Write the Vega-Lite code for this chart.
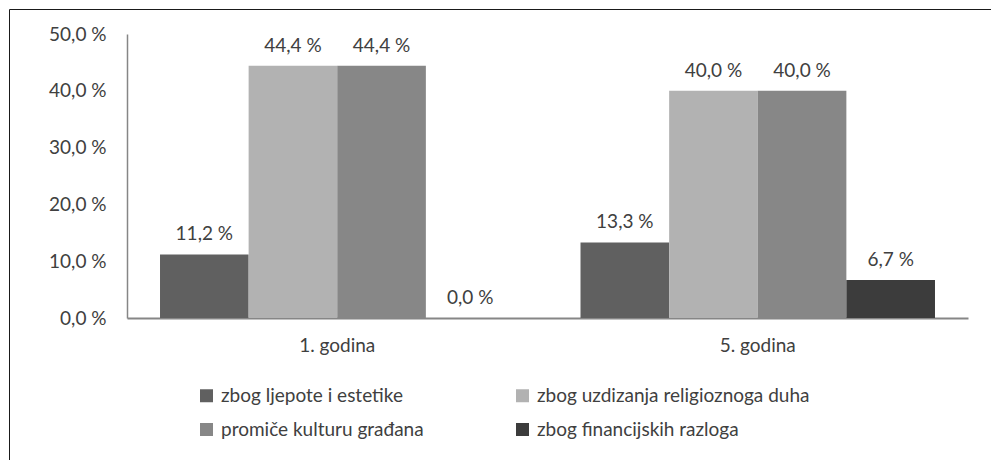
{
  "$schema": "https://vega.github.io/schema/vega-lite/v6.json",
  "width": 990,
  "height": 460,
  "autosize": {"type": "none"},
  "padding": {"left": 9, "top": 9, "right": 0, "bottom": 0},
  "config": {
    "locale": {"number": {"decimal": ",", "thousands": ".", "grouping": [3], "currency": ["", " €"], "percent": " %"}},
    "view": {"stroke": "#1a1a1a", "strokeWidth": 1},
    "font": "Lato",
    "text": {"font": "Lato"}
  },
  "data": {
    "values": [
      {"year": "1. godina", "reason": "zbog ljepote i estetike", "value": 0.112},
      {"year": "1. godina", "reason": "zbog uzdizanja religioznoga duha", "value": 0.444},
      {"year": "1. godina", "reason": "promiče kulturu građana", "value": 0.444},
      {"year": "1. godina", "reason": "zbog financijskih razloga", "value": 0.0},
      {"year": "5. godina", "reason": "zbog ljepote i estetike", "value": 0.133},
      {"year": "5. godina", "reason": "zbog uzdizanja religioznoga duha", "value": 0.4},
      {"year": "5. godina", "reason": "promiče kulturu građana", "value": 0.4},
      {"year": "5. godina", "reason": "zbog financijskih razloga", "value": 0.067}
    ]
  },
  "encoding": {
    "x": {
      "field": "year", "type": "nominal",
      "scale": {"range": [118, 959], "paddingInner": 0.157, "paddingOuter": 0.0785},
      "axis": {"title": null, "orient": "bottom", "offset": -151, "ticks": false, "grid": false, "domainColor": "#868686", "domainWidth": 2, "labelAngle": 0, "labelFontSize": 19, "labelColor": "#404040", "labelPadding": 18, "labelFont": "Lato"}
    },
    "xOffset": {
      "field": "reason", "type": "nominal",
      "sort": ["zbog ljepote i estetike", "zbog uzdizanja religioznoga duha", "promiče kulturu građana", "zbog financijskih razloga"],
      "scale": {"paddingInner": 0, "paddingOuter": 0}
    },
    "y": {
      "field": "value", "type": "quantitative",
      "scale": {"domain": [0, 0.5], "range": [309, 25]},
      "axis": {"title": null, "orient": "left", "offset": -118, "ticks": false, "grid": false, "domainColor": "#868686", "domainWidth": 1.5, "values": [0, 0.1, 0.2, 0.3, 0.4, 0.5], "format": ".1%", "labelFontSize": 19, "labelColor": "#404040", "labelPadding": 21, "labelFont": "Lato"}
    }
  },
  "layer": [
    {
      "mark": {"type": "bar"},
      "encoding": {
        "color": {
          "field": "reason", "type": "nominal",
          "scale": {"domain": ["zbog ljepote i estetike", "promiče kulturu građana", "zbog uzdizanja religioznoga duha", "zbog financijskih razloga"], "range": ["#606060", "#878787", "#b2b2b2", "#3c3c3c"]},
          "legend": {"title": null, "orient": "none", "legendX": 188, "legendY": 377, "columns": 2, "columnPadding": 89, "rowPadding": 14, "padding": 0, "symbolType": "square", "symbolSize": 169, "symbolStrokeWidth": 0, "labelFontSize": 19, "labelColor": "#404040", "labelOffset": 5, "labelFont": "Lato", "labelLimit": 500}
        }
      }
    },
    {
      "mark": {"type": "text", "baseline": "alphabetic", "dy": -14, "fontSize": 19, "color": "#404040", "font": "Lato"},
      "encoding": {
        "text": {"field": "value", "type": "quantitative", "format": ".1%"}
      }
    }
  ]
}
